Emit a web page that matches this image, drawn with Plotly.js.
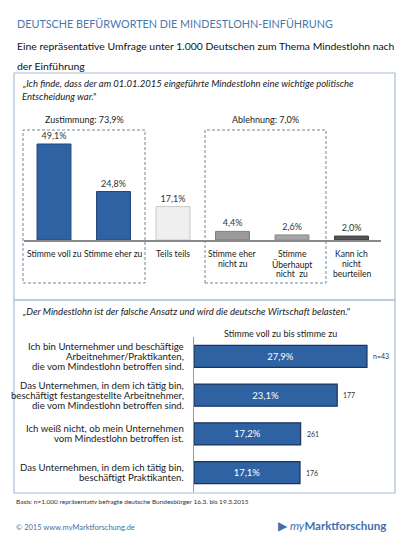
<!DOCTYPE html>
<html>
<head>
<meta charset="utf-8">
<script src="https://cdn.plot.ly/plotly-3.0.1.min.js"></script>
<style>
  html, body { margin: 0; padding: 0; background: #ffffff; }
  #chart { width: 410px; height: 547px; }
</style>
</head>
<body>
<div id="chart"></div>
<script>
// Question 1: answer distribution (percent of respondents)
const answerLabels = [
  'Stimme voll zu',
  'Stimme eher zu',
  'Teils teils',
  'Stimme eher<br>nicht zu',
  'Stimme<br>Überhaupt<br>nicht  zu',
  'Kann ich<br>nicht<br>beurteilen'
];
const answerShares = [49.1, 24.8, 17.1, 4.4, 2.6, 2.0];
const answerColors = ['#2f62a3', '#2f62a3', '#efefef', '#9b9b9b', '#a6a6a6', '#565656'];
const answerEdges  = ['#22467a', '#22467a', '#c8c8c8', '#7d7d7d', '#8a8a8a', '#3a3a3a'];

// Group totals shown above the dashed groups
const groupLabels = ['Zustimmung: 73,9%', 'Ablehnung: 7,0%'];

// Question 2: agreement by employer situation
const groupNames = [
  'Ich bin Unternehmer und beschäftige<br>Arbeitnehmer/Praktikanten,<br>die vom Mindestlohn betroffen sind.',
  'Das Unternehmen, in dem ich tätig bin,<br>beschäftigt festangestellte Arbeitnehmer,<br>die vom Mindestlohn betroffen sind.',
  'Ich weiß nicht, ob mein Unternehmen<br>vom Mindestlohn betroffen ist.',
  'Das Unternehmen, in dem ich tätig bin,<br>beschäftigt Praktikanten.'
];
const agreeShares = [27.9, 23.1, 17.2, 17.1];
const sampleSizes = ['n=43', '177', '261', '176'];

const W = 410, H = 547;
const px = v => v / W;          // pixel -> paper x
const py = v => 1 - v / H;      // pixel -> paper y (from top)

const FONT = 'Lato, "Open Sans", sans-serif';
const TXT = '#1a1a1a';
const BOXC = '#a9bcd6';
const DASH = '#6f8aa0';
const LINE_STEP = 10;           // tight leading for the multi-line category labels

const traces = [
  {
    type: 'bar',
    x: answerLabels,
    y: answerShares,
    xaxis: 'x', yaxis: 'y',
    marker: { color: answerColors, line: { color: answerEdges, width: 1 } },
    texttemplate: '%{y:.1f}%',
    textposition: 'outside',
    cliponaxis: false,
    textfont: { family: FONT, size: 9, color: '#333333' },
    hoverinfo: 'skip'
  },
  {
    type: 'bar',
    orientation: 'h',
    y: groupNames,
    x: agreeShares,
    xaxis: 'x2', yaxis: 'y2',
    marker: { color: '#2f62a3', line: { color: '#1c3558', width: 1.2 } },
    texttemplate: '%{x:.1f}%',
    textposition: 'inside',
    insidetextanchor: 'middle',
    textfont: { family: FONT, size: 9.5, color: '#ffffff' },
    hoverinfo: 'skip'
  }
];

const annotations = [
  // chart heading and subheading
  { text: 'DEUTSCHE BEFÜRWORTEN DIE MINDESTLOHN-EINFÜHRUNG', x: px(15), y: py(24), xref: 'paper', yref: 'paper',
    xanchor: 'left', yanchor: 'middle', showarrow: false, font: { family: FONT, size: 10.8, color: '#4a78ae' } },
  { text: 'Eine repräsentative Umfrage unter 1.000 Deutschen zum Thema Mindestlohn nach', x: px(15), y: py(46), xref: 'paper', yref: 'paper',
    xanchor: 'left', yanchor: 'middle', showarrow: false, font: { family: FONT, size: 10.4, color: '#111111' } },
  { text: 'der Einführung', x: px(15), y: py(66), xref: 'paper', yref: 'paper',
    xanchor: 'left', yanchor: 'middle', showarrow: false, font: { family: FONT, size: 10.4, color: '#111111' } },
  // statements
  { text: '<i>„Ich finde, dass der am 01.01.2015 eingeführte Mindestlohn eine wichtige politische</i>', x: px(20), y: py(83), xref: 'paper', yref: 'paper',
    xanchor: 'left', yanchor: 'middle', showarrow: false, font: { family: FONT, size: 9.5, color: TXT } },
  { text: '<i>Entscheidung war."</i>', x: px(20), y: py(96), xref: 'paper', yref: 'paper',
    xanchor: 'left', yanchor: 'middle', showarrow: false, font: { family: FONT, size: 9.5, color: TXT } },
  { text: '<i>„Der Mindestlohn ist der falsche Ansatz und wird die deutsche Wirtschaft belasten."</i>', x: px(20), y: py(311), xref: 'paper', yref: 'paper',
    xanchor: 'left', yanchor: 'middle', showarrow: false, font: { family: FONT, size: 9.5, color: TXT } },
  // group totals
  { text: groupLabels[0], x: px(84), y: py(119), xref: 'paper', yref: 'paper',
    xanchor: 'center', yanchor: 'middle', showarrow: false, font: { family: FONT, size: 9, color: TXT } },
  { text: groupLabels[1], x: px(265), y: py(119), xref: 'paper', yref: 'paper',
    xanchor: 'center', yanchor: 'middle', showarrow: false, font: { family: FONT, size: 9, color: TXT } },
  // horizontal chart heading
  { text: 'Stimme voll zu bis stimme zu', x: px(280), y: py(333), xref: 'paper', yref: 'paper',
    xanchor: 'center', yanchor: 'middle', showarrow: false, font: { family: FONT, size: 9, color: TXT } },
  // footnote and footer
  { text: 'Basis: n=1.000 repräsentativ befragte deutsche Bundesbürger 16.3. bis 19.3.2015', x: px(14), y: py(501), xref: 'paper', yref: 'paper',
    xanchor: 'left', yanchor: 'middle', showarrow: false, font: { family: FONT, size: 6.5, color: '#333333' } },
  { text: '© 2015 www.myMarktforschung.de', x: px(14), y: py(527), xref: 'paper', yref: 'paper',
    xanchor: 'left', yanchor: 'middle', showarrow: false, font: { family: FONT, size: 7.5, color: '#4a6f9e' } },
  { text: '▶ <i>my</i><b>Marktforschung</b>', x: px(388), y: py(525), xref: 'paper', yref: 'paper',
    xanchor: 'right', yanchor: 'middle', showarrow: false, font: { family: FONT, size: 11.5, color: '#3f6fae' } }
];

// category labels under the vertical bars, one annotation per line
answerLabels.forEach(label => {
  label.split('<br>').forEach((line, j) => {
    annotations.push({
      text: line, x: label, y: 0, xref: 'x', yref: 'y',
      xanchor: 'center', yanchor: 'middle', yshift: -14 - j * LINE_STEP,
      showarrow: false, font: { family: FONT, size: 8.6, color: TXT }
    });
  });
});

// group labels left of the horizontal bars, right-aligned, one annotation per line
groupNames.forEach(name => {
  const lines = name.split('<br>');
  const mid = (lines.length - 1) / 2;
  lines.forEach((line, j) => {
    annotations.push({
      text: line, x: 0, y: name, xref: 'x2', yref: 'y2',
      xanchor: 'right', yanchor: 'middle', xshift: -8, yshift: (mid - j) * LINE_STEP,
      showarrow: false, font: { family: FONT, size: 9.6, color: TXT }
    });
  });
});

// sample sizes next to each horizontal bar
agreeShares.forEach((v, i) => {
  annotations.push({
    text: sampleSizes[i], x: v, y: groupNames[i], xref: 'x2', yref: 'y2',
    xanchor: 'left', yanchor: 'middle', xshift: 4, showarrow: false,
    font: { family: FONT, size: 7, color: '#333333' }
  });
});

const shapes = [
  // panel frames
  { type: 'rect', xref: 'paper', yref: 'paper', x0: px(14), x1: px(395), y0: py(300), y1: py(73),
    line: { color: BOXC, width: 1.2 } },
  { type: 'rect', xref: 'paper', yref: 'paper', x0: px(14), x1: px(395), y0: py(493), y1: py(300),
    line: { color: BOXC, width: 1.2 } },
  // dashed group frames
  { type: 'rect', xref: 'paper', yref: 'paper', x0: px(23), x1: px(145), y0: py(283), y1: py(130),
    line: { color: DASH, width: 1, dash: '3px,2px' } },
  { type: 'rect', xref: 'paper', yref: 'paper', x0: px(205), x1: px(326), y0: py(283), y1: py(130),
    line: { color: DASH, width: 1, dash: '3px,2px' } }
];

const layout = {
  width: W, height: H,
  margin: { l: 0, r: 0, t: 0, b: 0 },
  paper_bgcolor: '#ffffff',
  plot_bgcolor: 'rgba(0,0,0,0)',
  showlegend: false,
  separators: ',.',
  font: { family: FONT, color: TXT },
  bargap: 0.43,
  xaxis: {
    domain: [px(24.25), px(381.25)],
    anchor: 'y',
    type: 'category',
    showgrid: false, zeroline: false,
    showline: true, linecolor: '#8a8a8a', linewidth: 1.5,
    ticks: '', showticklabels: false,
    fixedrange: true
  },
  yaxis: {
    domain: [py(240), py(142.25)],
    anchor: 'x',
    range: [0, 50],
    visible: false,
    fixedrange: true
  },
  xaxis2: {
    domain: [px(194), px(380)],
    anchor: 'y2',
    range: [0, 30],
    visible: false,
    fixedrange: true
  },
  yaxis2: {
    domain: [py(492), py(337)],
    anchor: 'x2',
    type: 'category',
    autorange: 'reversed',
    showgrid: false, zeroline: false,
    showline: true, linecolor: '#9a9a9a', linewidth: 1,
    ticks: '', showticklabels: false,
    fixedrange: true
  },
  annotations: annotations,
  shapes: shapes
};

Plotly.newPlot('chart', traces, layout, { displayModeBar: false, staticPlot: true });
</script>
</body>
</html>
